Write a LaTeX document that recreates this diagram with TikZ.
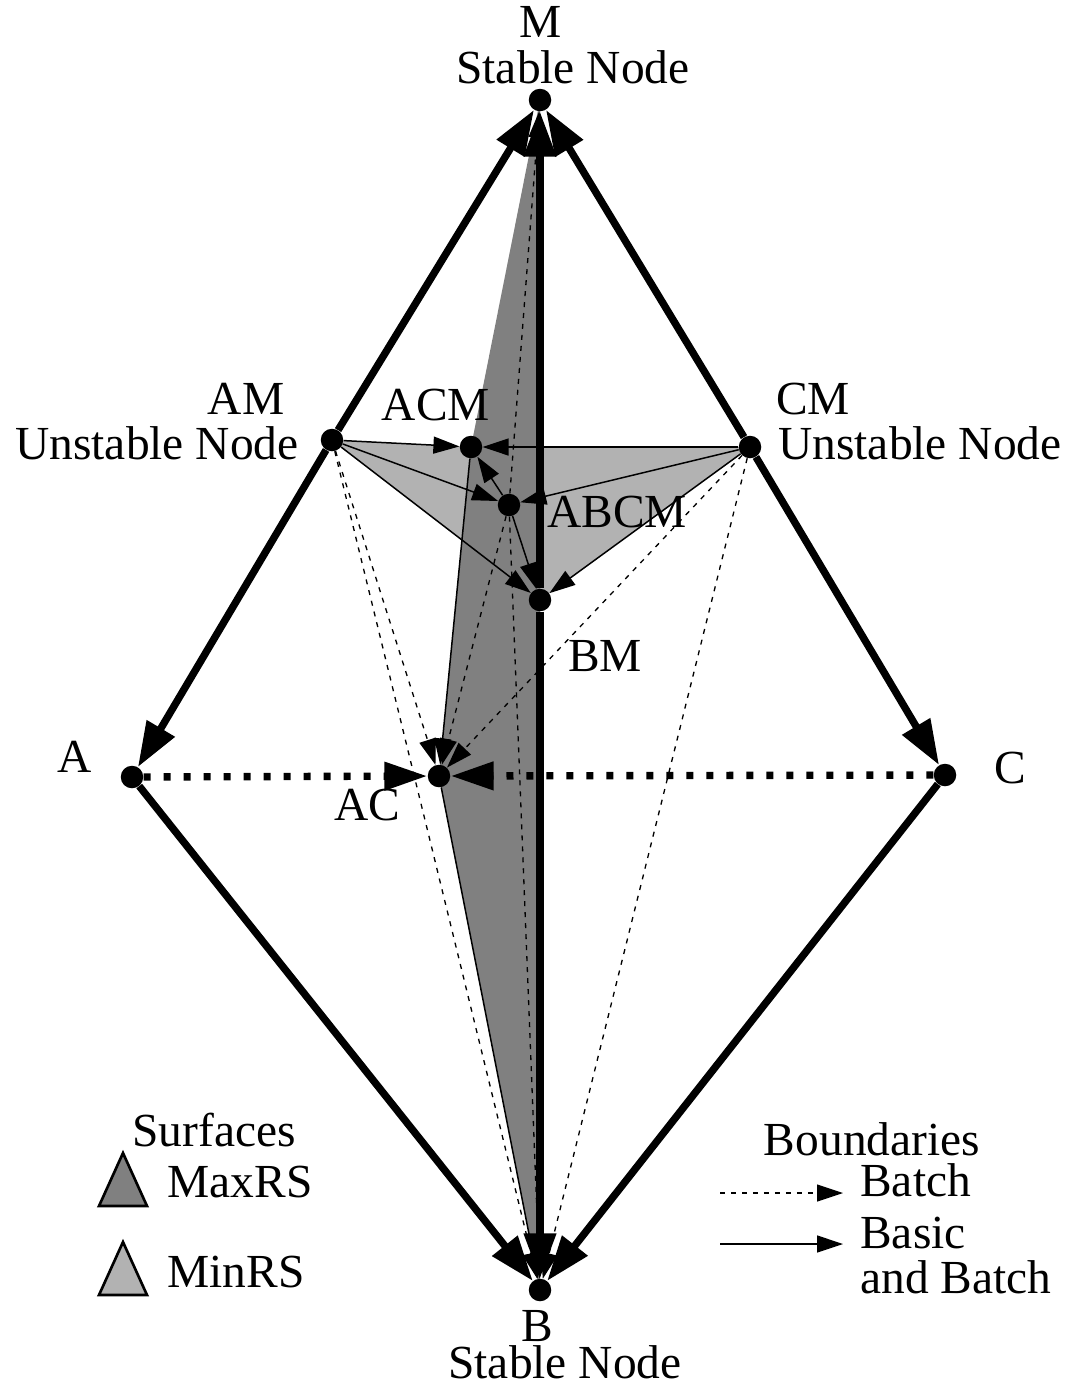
\documentclass[tikz,border=0pt]{standalone}
\usepackage{fontspec}
\setmainfont{Liberation Serif}
\usetikzlibrary{arrows.meta}
\pgfdeclarelayer{background}
\pgfsetlayers{background,main}

\begin{document}
\begin{tikzpicture}[
    x=0.02cm, y=-0.02cm,
    dot/.style={circle, fill, inner sep=0pt, minimum size=0.45cm},
    lbl/.style={font=\fontsize{27}{30}\selectfont, inner sep=0pt, text depth=0pt, anchor=base},
    basic/.style={-{Triangle[length=0.9cm, width=0.62cm]}, line width=4.2pt},
    sep/.style={-{Triangle[length=0.86cm, width=0.54cm]}, line width=4.2pt, dash pattern=on 0.14cm off 0.26cm},
    bound/.style={-{Triangle[length=0.52cm, width=0.34cm]}, line width=0.85pt},
    batch/.style={bound, line width=0.75pt, dash pattern=on 0.1cm off 0.12cm},
    maxrs/.style={fill=black!50},
    minrs/.style={fill=black!30}
]
\useasboundingbox (0,0) rectangle (1068,1384);

% Fixed points
\node[dot] (M) at (540,100) {};
\node[dot] (AM) at (332,440) {};
\node[dot] (CM) at (750,447) {};
\node[dot] (ACM) at (471,447) {};
\node[dot] (ABCM) at (509,505) {};
\node[dot] (BM) at (540,600) {};
\node[dot] (A) at (132,777) {};
\node[dot] (AC) at (439,776) {};
\node[dot] (C) at (945,775) {};
\node[dot] (B) at (540,1290) {};

% Surfaces
\begin{pgfonlayer}{background}
\fill[minrs] (AM.center) -- (ACM.center) -- (CM.center) -- (BM.center) -- cycle;
\fill[maxrs] (M.center) -- (ACM.center) -- (AC.center) -- (B.center) -- cycle;
\end{pgfonlayer}

% Batch boundaries
\draw[batch] (AM) -- (AC);
\draw[batch] (AM) -- (B);
\draw[batch] (CM) -- (AC);
\draw[batch] (CM) -- (B);
\draw[batch] (ABCM) -- (AC);
\draw[batch] (ABCM) -- (B);
\draw[batch] (ABCM) -- (M);

% Basic and batch boundaries
\draw[bound] (AM) -- (ACM);
\draw[bound] (CM) -- (ACM);
\draw[bound] (AM) -- (ABCM);
\draw[bound] (CM) -- (ABCM);
\draw[bound] (AM) -- (BM);
\draw[bound] (CM) -- (BM);
\draw[bound] (ABCM) -- (ACM);
\draw[bound] (ABCM) -- (BM);
\draw[bound] (ACM) -- (AC);
\draw[bound] (AC) -- (B);

% Edges
\draw[basic] (AM) -- (M);
\draw[basic] (AM) -- (A);
\draw[basic] (CM) -- (M);
\draw[basic] (CM) -- (C);
\draw[basic] (A) -- (B);
\draw[basic] (C) -- (B);
\draw[basic] (BM) -- (M);
\draw[basic] (BM) -- (B);
\draw[sep] (A) -- (AC);
\draw[sep] (C) -- (AC);

% Labels
\node[lbl] (tM) at (541,37) {M};
\node[lbl] (sM) at (573,83) {Stable Node};
\node[lbl] (tAM) at (246,414) {AM};
\node[lbl] (sAM) at (157,459) {Unstable Node};
\node[lbl] (tACM) at (436,420) {ACM};
\node[lbl] (tCM) at (813,414) {CM};
\node[lbl] (sCM) at (920,459) {Unstable Node};
\node[lbl] (tABCM) at (617,527) {ABCM};
\node[lbl] (tBM) at (605,671) {BM};
\node[lbl] (tA) at (75,772) {A};
\node[lbl] (tC) at (1010,783) {C};
\node[lbl] (tAC) at (367,820) {AC};
\node[lbl] (tB) at (537,1341) {B};
\node[lbl] (sB) at (565,1378) {Stable Node};

% Legend
\node[lbl] (surf) at (214,1146) {Surfaces};
\filldraw[maxrs, draw=black, line width=1.5pt] (99,1206) -- (147,1206) -- (123,1153) -- cycle;
\node[lbl] (lmax) at (240,1197) {MaxRS};
\filldraw[minrs, draw=black, line width=1.5pt] (99,1295) -- (147,1295) -- (123,1242) -- cycle;
\node[lbl] (lmin) at (236,1287) {MinRS};
\node[lbl] (bnd) at (872,1155) {Boundaries};
\coordinate (b1s) at (720,1193);
\coordinate (b1e) at (843,1193);
\draw[batch] (b1s) -- (b1e);
\node[lbl, anchor=base west] (lbatch) at (860,1196) {Batch};
\coordinate (b2s) at (720,1244);
\coordinate (b2e) at (843,1244);
\draw[bound] (b2s) -- (b2e);
\node[lbl, anchor=base west] (lbasic) at (860,1248) {Basic};
\node[lbl, anchor=base west] (land) at (860,1293) {and Batch};

\end{tikzpicture}
\end{document}
